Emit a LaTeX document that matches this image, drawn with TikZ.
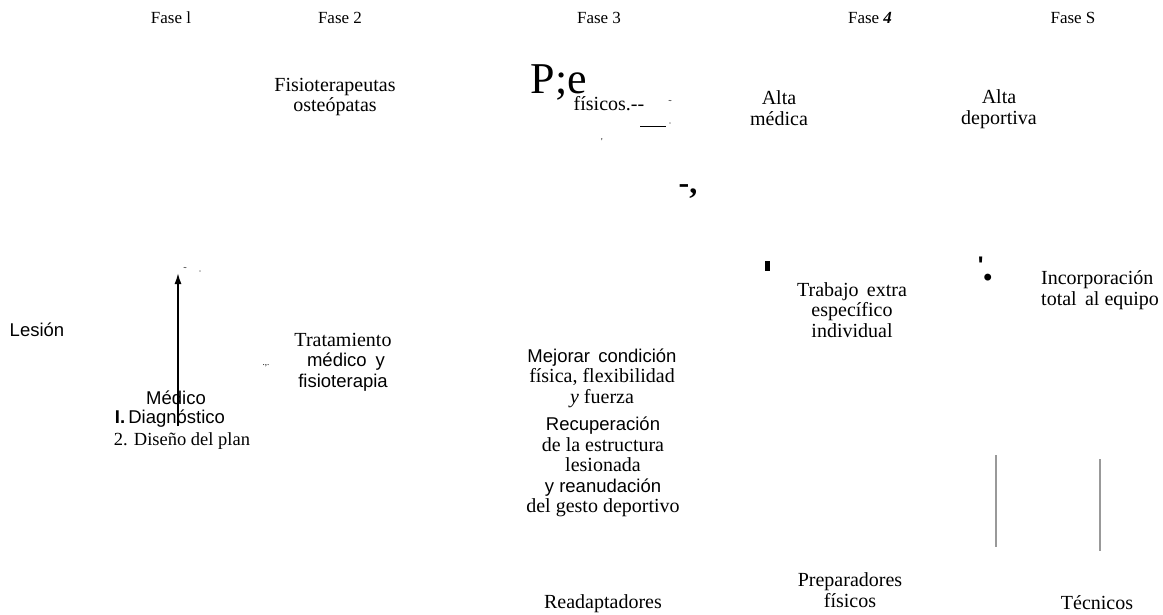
\documentclass[tikz,border=0pt]{standalone}
\usepackage{fontspec}
\setmainfont{Liberation Serif}
\setsansfont{Liberation Sans}
\usetikzlibrary{arrows.meta}
\newcommand{\sanslin}{\sffamily\fontsize{18.5}{20.5}\selectfont}

\begin{document}
\begin{tikzpicture}[x=1pt,y=-1pt]
\tikzset{romtxt/.style={font=\fontsize{20}{20.5}\selectfont, align=center, inner sep=0pt},
  sanstxt/.style={font=\sanslin, align=center, inner sep=0pt},
  fasetxt/.style={font=\fontsize{17}{18}\selectfont, inner sep=0pt},
  speck/.style={font=\fontsize{9}{9}\selectfont, inner sep=0pt},
  guia/.style={draw=gray!80, line width=1.4pt}}
\useasboundingbox (0,0) rectangle (1163,614);
% fases
\node[fasetxt] (F1) at (171,18) {Fase l};
\node[fasetxt] (F2) at (340,18) {Fase 2};
\node[fasetxt] (F3) at (599,18) {Fase 3};
\node[fasetxt] (F4) at (870,18) {Fase \textbf{\textit{4}}};
\node[fasetxt] (F5) at (1073,18) {Fase S};
% fila superior
\node[romtxt] (Fis) at (335,97) {Fisioterapeutas\\osteópatas};
\node[romtxt, font=\fontsize{44}{44}\selectfont] (Pe) at (559,82) {P;e};
\node[romtxt] (Fsc) at (609,104) {físicos.{-}{-}};
\node[speck] (s1) at (670,103) {˜};
\node[speck] (s2) at (670,125) {·};
\node[speck] (s3) at (602,142) {\textquotesingle};
\coordinate (L1) at (640,126);
\coordinate (L2) at (666,126);
\draw (L1) -- (L2);
\node[romtxt, font=\bfseries\fontsize{32}{32}\selectfont] (Dc) at (688,192) {-,};
\node[romtxt] (AM) at (779,108) {Alta\\médica};
\node[romtxt] (AD) at (999,109) {Alta\\deportiva};
% fila central
\node[sanstxt] (Les) at (37,330) {Lesión};
\coordinate (Ab) at (178,426);
\coordinate (At) at (178,273);
\draw[-{Latex[length=11pt,width=7pt]}, line width=1.6pt] (Ab) -- (At);
\node[speck] (s4) at (185,270) {˜};
\node[speck] (s5) at (200,273) {·};
\node[speck] (s6) at (266,366) {.,.};
\node[romtxt] (Trat) at (343,362) {Tratamiento\\{\sanslin\hspace{6pt}médico\hspace{9pt}y}\\{\sanslin fisioterapia}};
\node[sanstxt] (Med1) at (176,398) {Médico};
\node[sanstxt] (Med2) at (170,419) {\textbf{I.}\,Diagnóstico};
\node[romtxt, font=\fontsize{18.5}{20}\selectfont] (Med3) at (182,441) {2. Diseño del plan};
\node[romtxt] (Mej) at (602,378) {{\sanslin Mejorar\, condición}\\física, flexibilidad\\\textit{y} fuerza};
\node[romtxt] (Rec) at (603,467) {{\sanslin Recuperación}\\de la estructura\\lesionada\\{\sanslin y reanudación}\\del gesto deportivo};
\node[fill=black, minimum width=5pt, minimum height=10pt, inner sep=0pt] (Mk) at (767,266) {};
\node[romtxt] (Trab) at (852,310) {Trabajo\, extra\\específico\\individual};
\node[sanstxt, font=\sffamily\bfseries\fontsize{24}{24}\selectfont] (Ap) at (985,271) {\textquotesingle\raisebox{-12pt}{\textbullet}};
\node[romtxt, align=left, anchor=west] (Inc) at (1041,290) {Incorporación\\total\, al equipo};
% lineas
\coordinate (V1a) at (996,455);
\coordinate (V1b) at (996,547);
\coordinate (V2a) at (1100,459);
\coordinate (V2b) at (1100,551);
\draw[guia] (V1a) -- (V1b);
\draw[guia] (V2a) -- (V2b);
% fila inferior
\node[romtxt] (Read) at (603,604) {Readaptadores};
\node[romtxt] (Prep) at (850,590) {Preparadores\\físicos};
\node[romtxt] (Tec) at (1097,603) {Técnicos};
\end{tikzpicture}
\end{document}
